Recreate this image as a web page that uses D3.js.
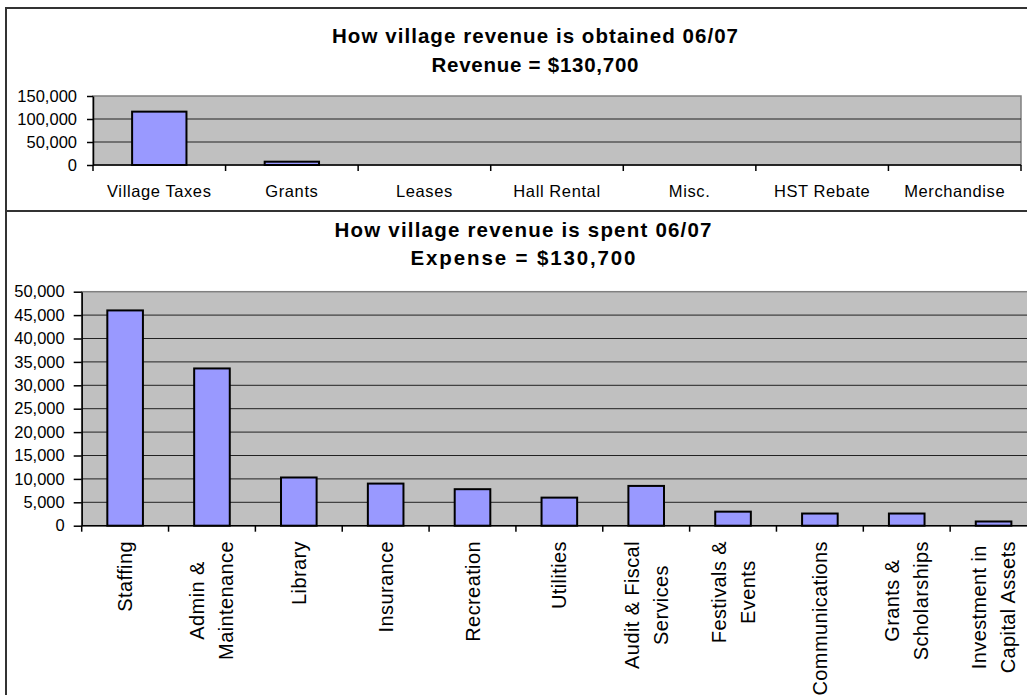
<!DOCTYPE html>
<html>
<head>
<meta charset="utf-8">
<script src="https://cdn.jsdelivr.net/npm/d3@7"></script>
<style>
  html, body { margin: 0; padding: 0; background: #fff; }
  svg { display: block; font-family: "Liberation Sans", Arial, sans-serif; }
</style>
</head>
<body>
<svg id="chart" width="1027" height="695"></svg>
<script>
// revenue chart data
const revCategories = ["Village Taxes", "Grants", "Leases", "Hall Rental", "Misc.", "HST Rebate", "Merchandise"];
const revValues = [116000, 7200, 0, 0, 0, 0, 0];
const revTicks = [0, 50000, 100000, 150000];

// expense chart data
const expCategories = ["Staffing", "Admin & Maintenance", "Library", "Insurance", "Recreation", "Utilities",
  "Audit & Fiscal Services", "Festivals & Events", "Communications", "Grants & Scholarships",
  "Investment in Capital Assets"];
const expValues = [46000, 33600, 10300, 9000, 7800, 6000, 8500, 3000, 2600, 2600, 900];
const expTickLabels = [["Staffing"], ["Admin &", "Maintenance"], ["Library"], ["Insurance"], ["Recreation"],
  ["Utilities"], ["Audit & Fiscal", "Services"], ["Festivals &", "Events"], ["Communications"],
  ["Grants &", "Scholarships"], ["Investment in", "Capital Assets"]];
const expTicks = [0, 5000, 10000, 15000, 20000, 25000, 30000, 35000, 40000, 45000, 50000];

const revTitle = ["How village revenue is obtained 06/07", "Revenue = $130,700"];
const expTitle = ["How village revenue is spent 06/07", "Expense = $130,700"];

const svg = d3.select("#chart");
const fmt = d3.format(",");

// chart frames
svg.append("path")
  .attr("d", "M6,695 V8 H1027")
  .attr("fill", "none")
  .attr("stroke", "#333")
  .attr("stroke-width", 2);
svg.append("line")
  .attr("x1", 6).attr("x2", 1027).attr("y1", 211).attr("y2", 211)
  .attr("stroke", "#333").attr("stroke-width", 2);

function drawTitle(lines, cx, ys, widths) {
  lines.forEach((t, i) => {
    svg.append("text")
      .attr("x", cx)
      .attr("y", ys[i])
      .attr("text-anchor", "middle")
      .attr("font-size", "20.5px")
      .attr("font-weight", "bold")
      .attr("textLength", widths[i])
      .attr("lengthAdjust", "spacing")
      .text(t);
  });
}

function drawPlot(opts) {
  const x = d3.scaleBand().domain(opts.cats).range([opts.left, opts.right]).padding(0);
  const y = d3.scaleLinear().domain([0, d3.max(opts.ticks)]).range([opts.bottom, opts.top]);
  const g = svg.append("g");

  // plot area
  g.append("rect")
    .attr("x", opts.left).attr("y", opts.top)
    .attr("width", opts.right - opts.left).attr("height", opts.bottom - opts.top)
    .attr("fill", "#C0C0C0")
    .attr("stroke", "#808080")
    .attr("stroke-width", 1.5);

  // gridlines
  g.selectAll(".grid")
    .data(opts.ticks.slice(1, -1))
    .enter().append("line")
    .attr("x1", opts.left).attr("x2", opts.right)
    .attr("y1", d => y(d)).attr("y2", d => y(d))
    .attr("stroke", "#222")
    .attr("stroke-width", 1);

  // bars
  const bw = x.bandwidth() * 0.41;
  g.selectAll(".bar")
    .data(opts.values)
    .enter().append("rect")
    .attr("x", (d, i) => x(opts.cats[i]) + (x.bandwidth() - bw) / 2)
    .attr("y", d => y(d))
    .attr("width", bw)
    .attr("height", d => opts.bottom - y(d))
    .attr("fill", "#9999FF")
    .attr("stroke", "#000")
    .attr("stroke-width", d => d > 0 ? 2 : 0);

  // y axis
  const yAxis = g.append("g")
    .attr("transform", `translate(${opts.left},0)`)
    .call(d3.axisLeft(y).tickValues(opts.ticks).tickFormat(fmt)
      .tickSize(opts.yTickSize).tickPadding(opts.yPad).tickSizeOuter(0));
  yAxis.select(".domain").attr("stroke", "#000").attr("stroke-width", 1.5);
  yAxis.selectAll("line").attr("stroke", "#000").attr("stroke-width", 1.5);
  yAxis.selectAll("text")
    .attr("font-size", "16.5px")
    .attr("font-family", "Liberation Sans, Arial, sans-serif")
    .attr("fill", "#000");

  // x axis line and boundary ticks
  g.append("line")
    .attr("x1", opts.left).attr("x2", opts.right)
    .attr("y1", opts.bottom).attr("y2", opts.bottom)
    .attr("stroke", "#000").attr("stroke-width", 1.5);
  const bounds = opts.cats.map(c => x(c)).concat([opts.right]);
  g.selectAll(".xtick")
    .data(bounds)
    .enter().append("line")
    .attr("x1", d => d).attr("x2", d => d)
    .attr("y1", opts.bottom).attr("y2", opts.bottom + 6)
    .attr("stroke", "#000").attr("stroke-width", 1.5);

  return { x, y, g };
}

// revenue chart
drawTitle(revTitle, 535, [43, 72], [406, 207]);
const rev = drawPlot({
  cats: revCategories, values: revValues, ticks: revTicks,
  left: 93, right: 1021, top: 96, bottom: 165, yTickSize: 6, yPad: 10
});
rev.g.append("g")
  .attr("transform", "translate(0,165)")
  .call(d3.axisBottom(rev.x).tickSize(0).tickPadding(20))
  .call(a => a.select(".domain").remove())
  .selectAll("text")
  .attr("font-size", "16.5px")
  .attr("letter-spacing", "0.6px")
  .attr("font-family", "Liberation Sans, Arial, sans-serif")
  .attr("fill", "#000");

// expense chart
drawTitle(expTitle, 523, [237, 265], [377, 225]);
const exp = drawPlot({
  cats: expCategories, values: expValues, ticks: expTicks,
  left: 81.7, right: 1037, top: 291.7, bottom: 525.7, yTickSize: 8, yPad: 9
});

// rotated category labels, lines centred in a block hanging from the axis
const labelTop = 541;
const pitch = 29;
expCategories.forEach((c, i) => {
  const lines = expTickLabels[i];
  const cx = exp.x(c) + exp.x.bandwidth() / 2;
  const lg = exp.g.append("g")
    .attr("transform", `translate(${cx},${labelTop}) rotate(-90)`);
  const texts = lines.map((t, j) => lg.append("text")
    .attr("y", (j - (lines.length - 1) / 2) * pitch)
    .attr("dy", "0.35em")
    .attr("text-anchor", "middle")
    .attr("font-size", "20px")
    .attr("letter-spacing", "0.4px")
    .attr("fill", "#000")
    .text(t));
  const maxW = d3.max(texts, t => t.node().getComputedTextLength());
  texts.forEach(t => t.attr("x", -maxW / 2));
});
</script>
</body>
</html>
